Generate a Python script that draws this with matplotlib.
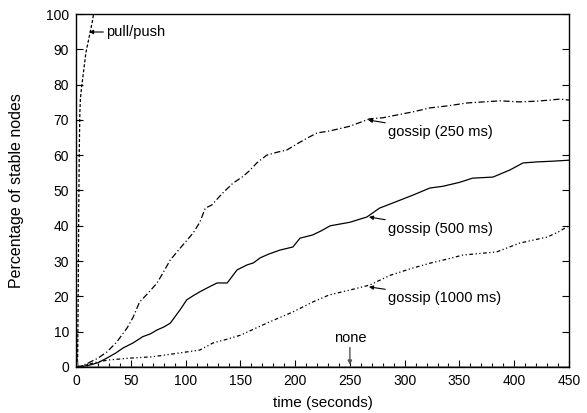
import matplotlib
matplotlib.use("Agg")
import matplotlib.pyplot as plt
from matplotlib.ticker import MultipleLocator

plt.rcParams['font.family'] = ['Liberation Sans', 'DejaVu Sans']
plt.rcParams['font.size'] = 10

# pull/push
pp_x = [0, 1.5, 2, 2.5, 3, 3.5, 4, 5, 7, 9, 11, 13, 15, 16, 450]
pp_y = [0, 3, 20, 45, 62, 72, 76, 79, 84, 89, 92, 95, 98, 100, 100]

# gossip 250 ms
g250_x = [0, 5, 11, 20, 28, 37, 46.5, 52, 58, 66, 74, 80, 86, 96, 107, 113, 118, 124, 133, 143,
          152, 158, 165, 174, 183, 192.6, 204.5, 212, 220, 232, 250, 268, 280, 293, 308, 323,
          340, 357, 372, 387, 405, 420, 432, 442, 450]
g250_y = [0, 0.3, 1.1, 2.5, 4.2, 7, 11, 14, 18.4, 21, 23.8, 27, 30.3, 34, 38, 41, 45, 45.9, 49, 52,
          53.9, 55.5, 57.8, 60, 60.8, 61.5, 63.7, 65, 66.3, 66.9, 68.2, 70.3, 70.6, 71.4, 72.3, 73.4,
          74.0, 74.8, 75.1, 75.4, 75.1, 75.3, 75.6, 75.9, 75.6]

# gossip 500 ms
g500_x = [0, 5, 12, 20, 28, 36, 43, 52, 61, 68, 74, 80, 86, 95, 101, 107, 113, 121, 128.7, 138,
          147, 156, 162, 168, 176, 186, 198, 204.5, 216, 224, 232, 250, 265.6, 277, 292, 307.6,
          323, 335, 350, 362, 380.6, 396, 408, 420.7, 435, 451]
g500_y = [0, 0.1, 0.5, 1.2, 2.5, 3.9, 5.4, 6.8, 8.6, 9.4, 10.5, 11.3, 12.4, 16.2, 19, 20.2, 21.3,
          22.6, 23.8, 23.8, 27.5, 28.9, 29.5, 30.9, 32.0, 33.1, 34, 36.5, 37.4, 38.6, 40.0, 41.0,
          42.5, 45, 46.8, 48.7, 50.7, 51.2, 52.3, 53.5, 53.8, 55.8, 57.8, 58.1, 58.3, 58.6]

# gossip 1000 ms
g1000_x = [0, 10, 19, 30, 49, 70, 95, 113, 125, 137, 150, 162, 174, 186, 198, 216, 231, 250, 268,
           287, 305, 323, 338, 353, 370, 384, 405, 430, 440, 451]
g1000_y = [0, 0.6, 1.4, 2.0, 2.5, 2.9, 4.0, 4.8, 6.8, 7.8, 9.0, 10.7, 12.4, 14.0, 15.6, 18.4, 20.4,
           21.8, 23.2, 26.0, 27.8, 29.4, 30.5, 31.7, 32.2, 32.6, 35.1, 36.8, 38.2, 40.2]

# none
none_x = [0, 0.5, 1, 2, 450]
none_y = [0, 10, 3, 0, 0]

fig = plt.figure(figsize=(5.87, 4.13), dpi=100)
ax = fig.add_axes([0.1295, 0.1114, 0.9693 - 0.1295, 0.9661 - 0.1114])

lw = 0.9
ax.plot(none_x, none_y, color='#777777', lw=1.0)
ax.plot(g1000_x, g1000_y, color='black', lw=lw, dashes=[3, 2, 1, 2, 1, 2])
ax.plot(g500_x, g500_y, color='black', lw=lw)
ax.plot(g250_x, g250_y, color='black', lw=lw, dashes=[5, 2, 1, 2])
ax.plot(pp_x, pp_y, color='black', lw=lw, dashes=[2.5, 1.5])

ax.set_xlim(0, 450)
ax.set_ylim(0, 100)
ax.xaxis.set_major_locator(MultipleLocator(50))
ax.xaxis.set_minor_locator(MultipleLocator(10))
ax.yaxis.set_major_locator(MultipleLocator(10))
ax.tick_params(axis='both', which='major', direction='in', length=5, width=0.8, pad=5)
ax.tick_params(axis='x', which='minor', direction='in', length=3, width=0.8)
ax.tick_params(axis='y', which='both', right=True)
for s in ax.spines.values():
    s.set_linewidth(1.0)

ax.set_xlabel('time (seconds)', labelpad=6, fontsize=11)
ax.set_ylabel('Percentage of stable nodes', labelpad=16, fontsize=11.5)

afs = 10.5
arrow = dict(arrowstyle='-|>', color='black', lw=0.8, mutation_scale=6, shrinkA=0, shrinkB=0)
ax.annotate('pull/push', xy=(11.9, 94.9), xytext=(27.5, 94.9), va='center', ha='left',
            fontsize=afs, arrowprops=arrow)
ax.annotate('gossip (250 ms)', xy=(266.5, 70.0), xytext=(284.8, 66.6), va='center', ha='left',
            fontsize=afs, arrowprops=arrow)
ax.annotate('gossip (500 ms)', xy=(267.4, 42.5), xytext=(284.8, 39.1), va='center', ha='left',
            fontsize=afs, arrowprops=arrow)
ax.annotate('gossip (1000 ms)', xy=(267.4, 22.7), xytext=(284.8, 19.5), va='center', ha='left',
            fontsize=afs, arrowprops=arrow)
ax.annotate('none', xy=(250, 0.6), xytext=(250, 6.3), va='bottom', ha='center', fontsize=afs,
            arrowprops=dict(arrowstyle='-|>', color='#555555', lw=1.0, mutation_scale=6, shrinkA=0, shrinkB=0))

fig.savefig('out.png', dpi=100)
